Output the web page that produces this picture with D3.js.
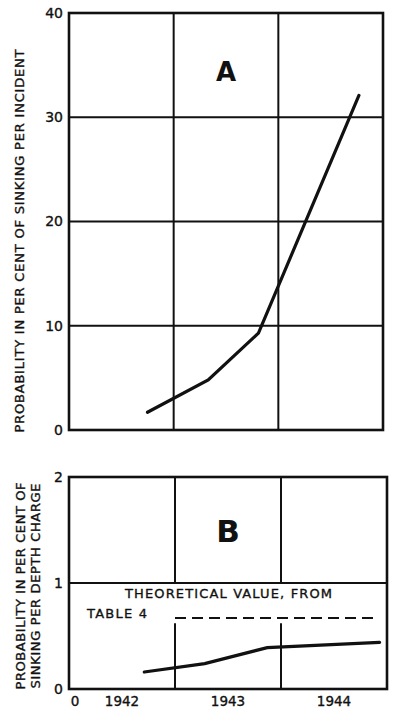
<!DOCTYPE html>
<html>
<head>
<meta charset="utf-8">
<script src="https://cdn.jsdelivr.net/npm/d3@7"></script>
<style>
  body { margin: 0; background: #fff; }
  text { font-family: "DejaVu Sans", sans-serif; fill: #111; stroke: #111; stroke-width: 0.35px; }
</style>
</head>
<body>
<svg id="chart" width="400" height="714"></svg>
<script>

// panel A - probability per incident
var yearsA = [1942.75, 1943.33, 1943.81, 1944.77];
var valuesA = [1.7, 4.8, 9.3, 32.1];
var ticksA = [0, 10, 20, 30, 40];

// panel B - probability per depth charge
var yearsB = [1942.71, 1943.28, 1943.87, 1944.93];
var valuesB = [0.16, 0.24, 0.39, 0.44];
var ticksB = [0, 1, 2];
var theoryYears = [1943.0, 1944.92];
var theoryValue = [0.67, 0.67];

var yearLabels = ['1942', '1943', '1944'];
var gridYears = [1943, 1944];

var svg = d3.select('#chart');
var ink = '#111';

function drawPanel (box, yMax, ticks, letter, letterSize) {
    var x = d3.scaleLinear().domain([1942, 1945]).range([box.left, box.right]);
    var y = d3.scaleLinear().domain([0, yMax]).range([box.bottom, box.top]);
    var g = svg.append('g');

    g.append('rect')
        .attr('x', box.left).attr('y', box.top)
        .attr('width', box.right - box.left)
        .attr('height', box.bottom - box.top)
        .attr('fill', 'none').attr('stroke', ink).attr('stroke-width', 2.6);

    g.append('g').attr('transform', 'translate(' + (box.left - 6) + ',0)')
        .call(d3.axisLeft(y).tickValues(ticks).tickFormat(d3.format('d'))
            .tickSize(0).tickPadding(0))
        .call(function (a) {
            a.select('.domain').remove();
            a.selectAll('text').style('font-size', '14px').attr('fill', ink)
                .attr('font-family', '"DejaVu Sans", sans-serif');
        });

    g.append('text')
        .attr('x', x(1943.5)).attr('y', box.top + letterSize.dy)
        .attr('text-anchor', 'middle')
        .style('font-size', letterSize.size + 'px')
        .style('font-weight', 'bold')
        .style('stroke-width', 0)
        .text(letter);

    return {g: g, x: x, y: y};
}

// ---- panel A
var A = drawPanel({left: 69, right: 383, top: 13, bottom: 430}, 40, ticksA, 'A', {size: 26, dy: 68});

A.g.selectAll('.hgrid').data([10, 20, 30]).enter().append('line')
    .attr('x1', 69).attr('x2', 383)
    .attr('y1', function (d) { return A.y(d); })
    .attr('y2', function (d) { return A.y(d); })
    .attr('stroke', ink).attr('stroke-width', 2);

A.g.selectAll('.vgrid').data(gridYears).enter().append('line')
    .attr('x1', function (d) { return A.x(d); })
    .attr('x2', function (d) { return A.x(d); })
    .attr('y1', 13).attr('y2', 430)
    .attr('stroke', ink).attr('stroke-width', 2);

A.g.append('path')
    .datum(d3.zip(yearsA, valuesA))
    .attr('fill', 'none').attr('stroke', ink).attr('stroke-width', 3.2)
    .attr('stroke-linecap', 'round')
    .attr('d', d3.line()
        .x(function (d) { return A.x(d[0]); })
        .y(function (d) { return A.y(d[1]); }));

svg.append('text')
    .attr('transform', 'translate(24,241) rotate(-90)')
    .attr('text-anchor', 'middle')
    .attr('textLength', 383).attr('lengthAdjust', 'spacing')
    .style('font-size', '13px')
    .text('PROBABILITY IN PER CENT OF SINKING PER INCIDENT');

// ---- panel B
var B = drawPanel({left: 69, right: 387, top: 477, bottom: 689}, 2, ticksB, 'B', {size: 31, dy: 65});

B.g.append('line')
    .attr('x1', 69).attr('x2', 387)
    .attr('y1', B.y(1)).attr('y2', B.y(1))
    .attr('stroke', ink).attr('stroke-width', 2);

// vertical grid is broken where the note is lettered
B.g.selectAll('.vgridTop').data(gridYears).enter().append('line')
    .attr('x1', function (d) { return B.x(d); })
    .attr('x2', function (d) { return B.x(d); })
    .attr('y1', 477).attr('y2', B.y(1))
    .attr('stroke', ink).attr('stroke-width', 2);

B.g.selectAll('.vgridBot').data(gridYears).enter().append('line')
    .attr('x1', function (d) { return B.x(d); })
    .attr('x2', function (d) { return B.x(d); })
    .attr('y1', B.y(0.62)).attr('y2', 689)
    .attr('stroke', ink).attr('stroke-width', 2);

B.g.append('path')
    .datum(d3.zip(theoryYears, theoryValue))
    .attr('fill', 'none').attr('stroke', ink).attr('stroke-width', 2)
    .attr('stroke-dasharray', '11,6')
    .attr('d', d3.line()
        .x(function (d) { return B.x(d[0]); })
        .y(function (d) { return B.y(d[1]); }));

B.g.append('path')
    .datum(d3.zip(yearsB, valuesB))
    .attr('fill', 'none').attr('stroke', ink).attr('stroke-width', 3.2)
    .attr('stroke-linecap', 'round')
    .attr('d', d3.line()
        .x(function (d) { return B.x(d[0]); })
        .y(function (d) { return B.y(d[1]); }));

B.g.append('text')
    .attr('x', 125).attr('y', 598)
    .attr('textLength', 207).attr('lengthAdjust', 'spacing')
    .style('font-size', '13px')
    .text('THEORETICAL VALUE, FROM');

B.g.append('text')
    .attr('x', 87).attr('y', 618)
    .attr('textLength', 60).attr('lengthAdjust', 'spacing')
    .style('font-size', '13px')
    .text('TABLE 4');

// year labels sit in the middle of each year
B.g.selectAll('.year').data(yearLabels).enter().append('text')
    .attr('x', function (d) { return B.x(+d + 0.5); })
    .attr('y', 706)
    .attr('text-anchor', 'middle')
    .style('font-size', '13.5px')
    .text(function (d) { return d; });

B.g.append('text')
    .attr('x', 75).attr('y', 706)
    .attr('text-anchor', 'middle')
    .style('font-size', '13.5px')
    .text('0');

svg.append('text')
    .attr('transform', 'translate(25,586) rotate(-90)')
    .attr('text-anchor', 'middle')
    .attr('textLength', 207).attr('lengthAdjust', 'spacing')
    .style('font-size', '13px')
    .text('PROBABILITY IN PER CENT OF');

svg.append('text')
    .attr('transform', 'translate(40,586) rotate(-90)')
    .attr('text-anchor', 'middle')
    .attr('textLength', 205).attr('lengthAdjust', 'spacing')
    .style('font-size', '13px')
    .text('SINKING PER DEPTH CHARGE');

</script>
</body>
</html>
